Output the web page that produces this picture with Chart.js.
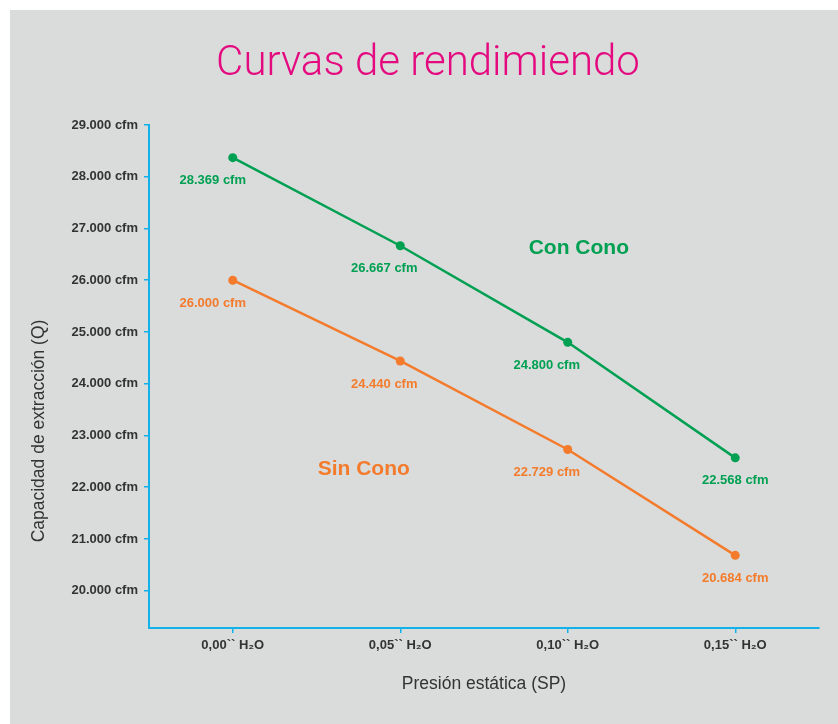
<!DOCTYPE html>
<html>
<head>
<meta charset="utf-8">
<script src="https://cdn.jsdelivr.net/npm/chart.js@4/dist/chart.umd.min.js"></script>
<style>
  html, body { margin: 0; padding: 0; background: #fff; }
  canvas { display: block; }
</style>
</head>
<body>
<canvas id="curvasChart" width="838" height="724"></canvas>
<script>
// Data
const presiones = ['0,00`` H\u2082O', '0,05`` H\u2082O', '0,10`` H\u2082O', '0,15`` H\u2082O'];
const conCono = [28369, 26667, 24800, 22568];
const sinCono = [26000, 24440, 22729, 20684];
const yTicks = [20000, 21000, 22000, 23000, 24000, 25000, 26000, 27000, 28000, 29000];

const VERDE = '#00a052';
const NARANJA = '#f47b2c';
const CIAN = '#12b1ea';
const TEXTO = '#333333';
const FUENTE = '"Liberation Sans", Arial, sans-serif';

// Format 28369 -> "28.369 cfm"
function formatCfm(v) {
  return Math.round(v).toString().replace(/\B(?=(\d{3})+(?!\d))/g, '.') + ' cfm';
}

const fondo = {
  id: 'fondo',
  beforeDraw(chart) {
    const c = chart.ctx;
    c.save();
    c.fillStyle = '#ffffff';
    c.fillRect(0, 0, chart.width, chart.height);
    c.fillStyle = '#d9dcdb';
    c.fillRect(10, 10, chart.width - 10, chart.height - 10);
    c.restore();
  }
};

// Title, y title, value labels and series names
const textos = {
  id: 'textos',
  afterDatasetsDraw(chart) {
    const c = chart.ctx;
    const xs = chart.scales.x;
    const ys = chart.scales.y;
    c.save();
    c.textAlign = 'center';
    c.textBaseline = 'middle';

    c.fillStyle = '#e5097f';
    c.font = '300 42px Roboto, ' + FUENTE;
    c.fillText('Curvas de rendimiendo', 428, 64);

    // y axis title sits lower than the plot centre in the original
    c.save();
    c.translate(39, 431);
    c.rotate(-Math.PI / 2);
    c.fillStyle = TEXTO;
    c.font = '17.5px ' + FUENTE;
    c.fillText('Capacidad de extracción (Q)', 0, 0);
    c.restore();

    // value labels under each point
    const dx = [-20, -16, -21, 0];
    c.font = 'bold 13px ' + FUENTE;
    chart.data.datasets.forEach((ds, i) => {
      const meta = chart.getDatasetMeta(i);
      c.fillStyle = ds.borderColor;
      meta.data.forEach((pt, j) => {
        c.fillText(formatCfm(ds.data[j]), pt.x + dx[j], pt.y + 23);
      });
    });

    // series names
    c.font = 'bold 21px ' + FUENTE;
    c.fillStyle = VERDE;
    c.fillText('Con Cono', xs.getPixelForValue(2.066), ys.getPixelForValue(26624));
    c.fillStyle = NARANJA;
    c.fillText('Sin Cono', xs.getPixelForValue(0.782), ys.getPixelForValue(22356));
    c.restore();
  }
};

new Chart(document.getElementById('curvasChart'), {
  type: 'line',
  data: {
    labels: presiones,
    datasets: [
      {
        label: 'Con Cono',
        data: conCono,
        borderColor: VERDE,
        backgroundColor: VERDE,
        borderWidth: 2.5,
        pointRadius: 4.5,
        pointBorderWidth: 0,
        tension: 0
      },
      {
        label: 'Sin Cono',
        data: sinCono,
        borderColor: NARANJA,
        backgroundColor: NARANJA,
        borderWidth: 2.5,
        pointRadius: 4.5,
        pointBorderWidth: 0,
        tension: 0
      }
    ]
  },
  options: {
    responsive: false,
    animation: false,
    layout: { padding: { top: 125, left: 10, right: 19, bottom: 0 } },
    plugins: {
      legend: { display: false },
      tooltip: { enabled: false }
    },
    scales: {
      x: {
        type: 'category',
        offset: true,
        afterFit(scale) { scale.height = 96; },
        border: { color: CIAN, width: 2 },
        grid: { drawOnChartArea: false, color: CIAN, lineWidth: 1.5, tickLength: 5, offset: false },
        ticks: {
          color: TEXTO,
          padding: 5,
          font: { family: FUENTE, size: 13, weight: 'bold' }
        },
        title: {
          display: true,
          text: 'Presión estática (SP)',
          color: TEXTO,
          padding: { top: 0, bottom: 29.5 },
          font: { family: FUENTE, size: 17.5 }
        }
      },
      y: {
        min: 19280,
        max: 29000,
        afterFit(scale) { scale.width = 139; },
        afterBuildTicks(scale) { scale.ticks = yTicks.map(v => ({ value: v })); },
        border: { color: CIAN, width: 2 },
        grid: { drawOnChartArea: false, color: CIAN, lineWidth: 1.5, tickLength: 5 },
        ticks: {
          color: TEXTO,
          padding: 6,
          font: { family: FUENTE, size: 13, weight: 'bold' },
          callback: v => formatCfm(v)
        }
      }
    }
  },
  plugins: [fondo, textos]
});
</script>
</body>
</html>
